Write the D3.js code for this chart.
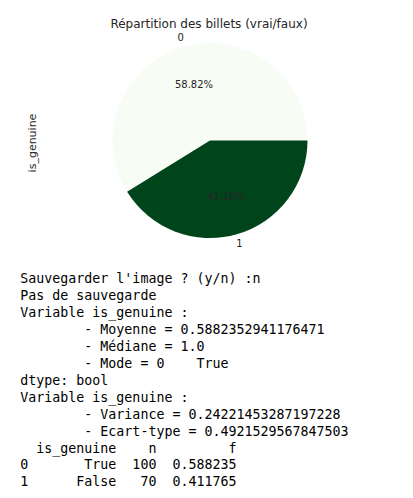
<!DOCTYPE html>
<html>
<head>
<meta charset="utf-8">
<script src="https://cdn.jsdelivr.net/npm/d3@7"></script>
<style>
  html, body { margin: 0; padding: 0; background: #fff; }
  svg { display: block; }
</style>
</head>
<body>
<svg id="chart" width="413" height="498"></svg>
<script>
// ---- data ----
const categories = ["0", "1"];
const genuine = ["True", "False"];
const counts = [100, 70];
const freqs = ["0.588235", "0.411765"];
const sliceColors = ["#f7fcf5", "#00441b"];
const title = "Répartition des billets (vrai/faux)";
const yLabel = "is_genuine";
const consoleLines = [
  "Sauvegarder l'image ? (y/n) :n",
  "Pas de sauvegarde",
  "Variable is_genuine :",
  "        - Moyenne = 0.5882352941176471",
  "        - Médiane = 1.0",
  "        - Mode = 0    True",
  "dtype: bool",
  "Variable is_genuine :",
  "        - Variance = 0.24221453287197228",
  "        - Ecart-type = 0.4921529567847503"
];

const svg = d3.select("#chart");
const total = d3.sum(counts);
const cx = 210, cy = 140.5, r = 97.5;

// matplotlib: start at 3 o'clock, counter-clockwise
const pie = d3.pie().sort(null).value(d => d)
  .startAngle(Math.PI / 2).endAngle(Math.PI / 2 - 2 * Math.PI);
const arcs = pie(counts);
const arc = d3.arc().innerRadius(0).outerRadius(r);

const g = svg.append("g").attr("transform", `translate(${cx},${cy})`);
g.selectAll("path").data(arcs).join("path")
  .attr("d", arc)
  .attr("fill", (d, i) => sliceColors[i]);

function pos(d, k) {
  const a = (d.startAngle + d.endAngle) / 2;
  return [Math.sin(a) * r * k, -Math.cos(a) * r * k];
}

g.selectAll("text.lab").data(arcs).join("text")
  .attr("class", "lab")
  .attr("x", d => pos(d, 1.1)[0])
  .attr("y", d => pos(d, 1.1)[1])
  .attr("text-anchor", "middle")
  .attr("dominant-baseline", "central")
  .attr("font-family", "DejaVu Sans")
  .attr("font-size", "10px")
  .attr("fill", "#262626")
  .text((d, i) => categories[i]);

g.selectAll("text.pct").data(arcs).join("text")
  .attr("class", "pct")
  .attr("x", d => pos(d, 0.6)[0])
  .attr("y", d => pos(d, 0.6)[1])
  .attr("text-anchor", "middle")
  .attr("dominant-baseline", "central")
  .attr("font-family", "DejaVu Sans")
  .attr("font-size", "10px")
  .attr("fill", "#262626")
  .text(d => (d.value / total * 100).toFixed(2) + "%");

svg.append("text")
  .attr("x", 209).attr("y", 27.5)
  .attr("text-anchor", "middle")
  .attr("font-family", "DejaVu Sans")
  .attr("font-size", "12px")
  .attr("fill", "#262626")
  .text(title);

svg.append("text")
  .attr("transform", "translate(35.5,143) rotate(-90)")
  .attr("text-anchor", "middle")
  .attr("font-family", "DejaVu Sans")
  .attr("font-size", "11px")
  .attr("fill", "#262626")
  .text(yLabel);

// ---- console output ----
function pad(s, w) { s = String(s); return " ".repeat(Math.max(0, w - s.length)) + s; }
const tableLines = ["  is_genuine    n         f"].concat(
  categories.map((c, i) => c + pad(genuine[i], 11) + pad(counts[i], 5) + pad(freqs[i], 10))
);
const lines = consoleLines.concat(tableLines);
const lineH = 16.95, x0 = 20.3, y0 = 283;
svg.append("g").selectAll("text").data(lines).join("text")
  .attr("x", x0)
  .attr("y", (d, i) => y0 + i * lineH)
  .attr("font-family", "DejaVu Sans Mono")
  .attr("font-size", "13.3px")
  .attr("fill", "#000")
  .style("white-space", "pre")
  .text(d => d);
</script>
</body>
</html>
